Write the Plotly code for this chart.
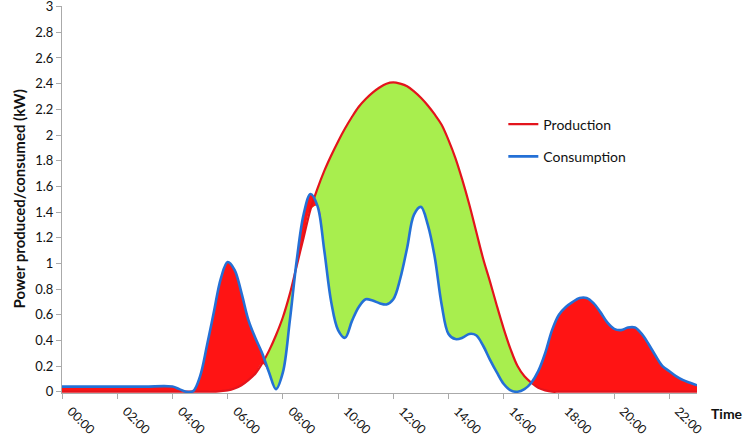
import numpy as np
import plotly.graph_objects as go

# sample times (hours of the day)
hours = [0, 1, 2, 3] + [4 + 0.25 * i for i in range(77)]

tick_hours = [0, 2, 4, 6, 8, 10, 12, 14, 16, 18, 20, 22]
tick_labels = ["00:00", "02:00", "04:00", "06:00", "08:00", "10:00",
               "12:00", "14:00", "16:00", "18:00", "20:00", "22:00"]
y_ticks = [0, 0.2, 0.4, 0.6, 0.8, 1, 1.2, 1.4, 1.6, 1.8, 2, 2.2, 2.4, 2.6, 2.8, 3]

# power produced (kW)
production = [0, 0, 0, 0,
              0, 0, 0, 0, 0, 0, 0, 0.005,
              0.01, 0.025, 0.05, 0.09, 0.14, 0.22, 0.32, 0.44,
              0.58, 0.76, 0.98, 1.2, 1.42, 1.58, 1.72, 1.84,
              1.95, 2.05, 2.14, 2.22, 2.28, 2.33, 2.37, 2.40,
              2.41, 2.40, 2.38, 2.34, 2.29, 2.23, 2.16, 2.08,
              1.96, 1.82, 1.65, 1.46, 1.25, 1.04, 0.86, 0.67,
              0.49, 0.33, 0.2, 0.12, 0.07, 0.03, 0.01, 0,
              0, 0, 0, 0, 0, 0, 0, 0,
              0, 0, 0, 0, 0, 0, 0, 0,
              0, 0, 0, 0, 0]

# power consumed (kW)
consumption = [0.04, 0.04, 0.04, 0.04,
               0.04, 0.02, 0.0, 0.005, 0.12, 0.36, 0.62, 0.88,
               1.01, 0.95, 0.77, 0.56, 0.42, 0.3, 0.15, 0.02,
               0.15, 0.55, 1.02, 1.38, 1.54, 1.45, 1.1, 0.7,
               0.48, 0.42, 0.55, 0.66, 0.72, 0.71, 0.69, 0.68,
               0.72, 0.88, 1.12, 1.38, 1.44, 1.3, 1.05, 0.68,
               0.45, 0.41, 0.42, 0.45, 0.44, 0.36, 0.25, 0.15,
               0.06, 0.01, 0.0, 0.02, 0.07, 0.16, 0.3, 0.48,
               0.6, 0.66, 0.7, 0.73, 0.73, 0.69, 0.62, 0.54,
               0.49, 0.48, 0.5, 0.5, 0.45, 0.37, 0.28, 0.2,
               0.16, 0.12, 0.09, 0.07, 0.05]

RED_LINE = "#E3141C"
RED_FILL = "#FF1414"
GREEN_FILL = "#A8EE4E"
BLUE_LINE = "#2470D6"
FONT = "Lato"

prod = np.array(production)
cons = np.array(consumption)
low = np.minimum(prod, cons)

fig = go.Figure()

# surplus (production above consumption) -> green
fig.add_trace(go.Scatter(x=hours, y=low, mode="lines", line=dict(width=0, shape="spline"),
                         showlegend=False, hoverinfo="skip"))
fig.add_trace(go.Scatter(x=hours, y=prod, mode="lines", line=dict(width=0, shape="spline"),
                         fill="tonexty", fillcolor=GREEN_FILL, showlegend=False, hoverinfo="skip"))

# deficit (consumption above production) -> red
fig.add_trace(go.Scatter(x=hours, y=low, mode="lines", line=dict(width=0, shape="spline"),
                         showlegend=False, hoverinfo="skip"))
fig.add_trace(go.Scatter(x=hours, y=cons, mode="lines", line=dict(width=0, shape="spline"),
                         fill="tonexty", fillcolor=RED_FILL, showlegend=False, hoverinfo="skip"))

# the two curves
fig.add_trace(go.Scatter(x=hours, y=production, mode="lines", name="Production",
                         line=dict(color=RED_LINE, width=2.2, shape="spline"),
                         legendgroup="p"))
fig.add_trace(go.Scatter(x=hours, y=consumption, mode="lines", name="Consumption",
                         line=dict(color=BLUE_LINE, width=2.6, shape="spline"),
                         legendgroup="c"))

fig.update_layout(
    width=749, height=435,
    margin=dict(l=62, r=52, t=6, b=42),
    plot_bgcolor="white", paper_bgcolor="white",
    font=dict(family=FONT, color="#111111"),
    legend=dict(x=0.695, y=0.735, xanchor="left", yanchor="top",
                bgcolor="rgba(0,0,0,0)", font=dict(size=14, color="#111111"),
                tracegroupgap=11, itemwidth=30),
    annotations=[
        dict(text="<b>Power produced/consumed (kW)</b>", x=0, y=0.5,
             xref="paper", yref="paper", xanchor="center", yanchor="middle",
             xshift=-44, textangle=-90, showarrow=False,
             font=dict(size=15, family=FONT, color="#111111")),
        dict(text="<b>Time</b>", x=1, y=0, xref="paper", yref="paper",
             xanchor="left", yanchor="middle", xshift=12, yshift=-20,
             showarrow=False, font=dict(size=14, family=FONT, color="#111111")),
    ],
)

fig.update_xaxes(range=[0, 23], tickvals=tick_hours, ticktext=tick_labels,
                 tickangle=45, ticks="outside", ticklen=5, tickcolor="#AAAAAA",
                 ticklabelshift=9, ticklabelstandoff=0, ticklabeloverflow="allow",
                 showline=True, linecolor="#AAAAAA", linewidth=1,
                 showgrid=False, zeroline=False, automargin=False,
                 tickfont=dict(size=12.5, family=FONT, color="#111111"))

fig.update_yaxes(range=[-0.01, 3.005], tickvals=y_ticks, ticktext=[f"{v:g}" for v in y_ticks],
                 ticks="outside", ticklen=5, ticklabeloverflow="allow",
                 tickcolor="#AAAAAA", showline=True, linecolor="#AAAAAA", linewidth=1,
                 showgrid=False, zeroline=False, automargin=False,
                 tickfont=dict(size=13, family=FONT, color="#111111"))

# drop the default page margin so the figure fills the window
fig.write_html("out.html", config={"displayModeBar": False},
               post_script="document.body.style.margin='0px';")
